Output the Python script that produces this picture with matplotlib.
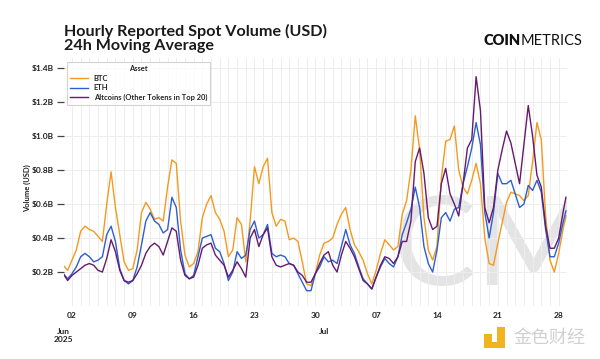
import matplotlib
matplotlib.use('Agg')
import matplotlib.pyplot as plt
import matplotlib.dates as mdates
import matplotlib.transforms as mtransforms
from matplotlib.patches import Rectangle
import pandas as pd

plt.rcParams['font.family'] = ['Lato', 'DejaVu Sans']

# 24h moving average, read every 12 hours from the chart (billions USD)
times = pd.date_range('2025-06-01', periods=116, freq='12h').append(
    pd.DatetimeIndex(['2025-07-28 20:00']))

btc = [0.24, 0.21, 0.27, 0.33, 0.44, 0.47, 0.45, 0.44, 0.41, 0.38,
       0.60, 0.79, 0.58, 0.42, 0.26, 0.21, 0.22, 0.33, 0.55, 0.61,
       0.57, 0.51, 0.52, 0.50, 0.70, 0.86, 0.84, 0.50, 0.30, 0.23,
       0.25, 0.32, 0.52, 0.60, 0.65, 0.55, 0.51, 0.44, 0.29, 0.33,
       0.52, 0.48, 0.26, 0.50, 0.82, 0.72, 0.82, 0.87, 0.55, 0.47,
       0.51, 0.50, 0.39, 0.40, 0.38, 0.26, 0.13, 0.12, 0.19, 0.30,
       0.37, 0.38, 0.40, 0.48, 0.54, 0.58, 0.45, 0.36, 0.32, 0.27,
       0.19, 0.13, 0.21, 0.31, 0.39, 0.36, 0.33, 0.35, 0.54, 0.62,
       0.80, 1.12, 0.92, 0.52, 0.33, 0.27, 0.35, 0.75, 0.97, 0.98,
       1.06, 0.80, 0.70, 0.66, 0.74, 0.84, 0.72, 0.40, 0.25, 0.24,
       0.37, 0.49, 0.61, 0.67, 0.66, 0.65, 0.62, 0.65, 0.85, 1.08,
       0.98, 0.53, 0.27, 0.20, 0.31, 0.45,
       0.53]

eth = [0.19, 0.16, 0.19, 0.23, 0.29, 0.31, 0.29, 0.26, 0.27, 0.29,
       0.42, 0.47, 0.38, 0.22, 0.15, 0.13, 0.15, 0.23, 0.36, 0.50,
       0.55, 0.50, 0.48, 0.43, 0.45, 0.64, 0.58, 0.33, 0.19, 0.16,
       0.18, 0.29, 0.40, 0.41, 0.42, 0.34, 0.32, 0.25, 0.15, 0.20,
       0.32, 0.28, 0.30, 0.45, 0.50, 0.40, 0.42, 0.48, 0.31, 0.29,
       0.30, 0.29, 0.25, 0.24, 0.19, 0.14, 0.09, 0.09, 0.19, 0.23,
       0.29, 0.26, 0.27, 0.25, 0.35, 0.45, 0.36, 0.31, 0.23, 0.16,
       0.13, 0.10, 0.17, 0.23, 0.28, 0.25, 0.23, 0.29, 0.42, 0.49,
       0.57, 0.70, 0.58, 0.35, 0.25, 0.20, 0.33, 0.52, 0.55, 0.50,
       0.57, 0.58, 0.72, 0.82, 0.93, 1.08, 0.95, 0.55, 0.40, 0.55,
       0.78, 0.72, 0.72, 0.74, 0.66, 0.58, 0.60, 0.71, 0.68, 0.74,
       0.67, 0.45, 0.29, 0.29, 0.37, 0.49,
       0.56]

alts = [0.19, 0.15, 0.18, 0.20, 0.22, 0.24, 0.25, 0.24, 0.21, 0.20,
        0.28, 0.39, 0.32, 0.21, 0.15, 0.14, 0.15, 0.19, 0.24, 0.31,
        0.35, 0.37, 0.35, 0.30, 0.38, 0.46, 0.44, 0.27, 0.18, 0.16,
        0.17, 0.24, 0.34, 0.36, 0.37, 0.30, 0.27, 0.24, 0.17, 0.21,
        0.26, 0.22, 0.17, 0.40, 0.45, 0.35, 0.42, 0.46, 0.29, 0.24,
        0.23, 0.24, 0.25, 0.24, 0.20, 0.18, 0.14, 0.14, 0.19, 0.25,
        0.30, 0.32, 0.24, 0.20, 0.30, 0.38, 0.34, 0.29, 0.22, 0.15,
        0.13, 0.10, 0.17, 0.24, 0.29, 0.28, 0.25, 0.29, 0.38, 0.38,
        0.50, 0.85, 0.93, 0.78, 0.52, 0.45, 0.47, 0.72, 0.81, 0.66,
        0.60, 0.53, 0.72, 0.93, 0.98, 1.35, 1.15, 0.58, 0.49, 0.58,
        0.80, 0.92, 1.03, 0.96, 0.84, 0.72, 0.95, 1.18, 1.00, 0.77,
        0.70, 0.47, 0.34, 0.34, 0.40, 0.55,
        0.64]

labels = ['BTC', 'ETH', 'Altcoins (Other Tokens in Top 20)']
colors = ['#f39a1e', '#2c5fd1', '#651a6e']

y_ticks = [0.2, 0.4, 0.6, 0.8, 1.0, 1.2, 1.4]
y_tick_labels = ['$0.2B', '$0.4B', '$0.6B', '$0.8B', '$1.0B', '$1.2B', '$1.4B']
month_labels = [('2025-06-01', 'Jun\n2025'), ('2025-07-01', 'Jul')]

fig = plt.figure(figsize=(6, 3.59), dpi=100)
ax = fig.add_axes([64 / 600, 53 / 359, 503 / 600, 248 / 359])

# faint CM watermark behind the lines
ax.text(0.85, 0.0, 'CM', transform=ax.transAxes, fontsize=90, color='#e4e4e4',
        ha='center', va='bottom', weight='normal', zorder=0, clip_on=True)

for vals, lab, col in zip([btc, eth, alts], labels, colors):
    ax.plot(times, vals, color=col, lw=1.0, label=lab, zorder=2)

ax.set_xlim(pd.Timestamp('2025-06-01 02:00'), pd.Timestamp('2025-07-28 23:00'))
ax.set_ylim(0, 1.46)
ax.set_yticks(y_ticks)
ax.set_yticklabels(y_tick_labels)

ax.xaxis.set_major_locator(mdates.WeekdayLocator(byweekday=mdates.MO))
ax.xaxis.set_major_formatter(mdates.DateFormatter('%d'))
ax.xaxis.set_minor_locator(mdates.DayLocator())

ax.grid(which='both', axis='x', color='#ededed', lw=0.7, zorder=0)
ax.grid(which='major', axis='y', color='#ededed', lw=0.7, zorder=0)
for s in ax.spines.values():
    s.set_visible(False)

ax.tick_params(axis='x', which='both', length=0, pad=4, labelsize=6, labelcolor='#222222')
ax.tick_params(axis='y', length=5, width=0.9, color='#444444', pad=2,
               labelsize=6, labelcolor='#222222')
for t in ax.get_xticklabels() + ax.get_yticklabels():
    t.set_fontweight('bold')

trans = mtransforms.blended_transform_factory(ax.transData, ax.transAxes)
for d, txt in month_labels:
    ax.text(mdates.date2num(pd.Timestamp(d)), -0.09, txt, transform=trans,
            ha='center', va='top', fontsize=6, weight='bold', color='#222222',
            linespacing=1.05)

fig.text(27 / 600, 1 - 188 / 359, 'Volume (USD)', rotation=90, fontsize=5.5,
         weight='bold', color='#222222', ha='center', va='center')

leg = ax.legend(loc='upper left', bbox_to_anchor=(0.006, 0.985), title='Asset',
                prop={'size': 5.4}, title_fontsize=5.4, borderaxespad=0,
                frameon=True, fancybox=False, edgecolor='#c8c8c8',
                borderpad=0.45, labelspacing=0.35, handlelength=2.3)
leg.get_frame().set_linewidth(0.8)
leg.get_title().set_color('#222222')
leg.get_title().set_fontweight('bold')
for t in leg.get_texts():
    t.set_color('#222222')
    t.set_fontweight('bold')

fig.text(64 / 600, 1 - 24 / 359, 'Hourly Reported Spot Volume (USD)\n24h Moving Average',
         fontsize=11.6, weight='bold', color='#1a1a1a', ha='left', va='top', linespacing=1.0)

coin = fig.text(484 / 600, 1 - 45 / 359, 'COIN', fontsize=10.5, weight='heavy',
                color='#111111', ha='left', va='baseline')
fig.canvas.draw()
bb = coin.get_window_extent(renderer=fig.canvas.get_renderer())
fig.text(bb.x1 / fig.bbox.width, 1 - 45 / 359, 'METRICS', fontsize=10.5, weight='normal',
         color='#111111', ha='left', va='baseline')

# site watermark, bottom right
gold = '#f2b320'
for (x0, y0, w, h) in [(484, 334, 8, 8), (497, 327, 8, 21), (484, 342, 21, 6)]:
    fig.add_artist(Rectangle((x0 / 600, 1 - (y0 + h) / 359), w / 600, h / 359,
                             transform=fig.transFigure, color=gold, lw=0))
fig.text(513 / 600, 1 - 338 / 359, '金色财经', family=['Noto Sans CJK SC', 'DejaVu Sans'],
         fontsize=13, color='#d0d0d0', ha='left', va='center')

fig.savefig('out.png', dpi=100)
